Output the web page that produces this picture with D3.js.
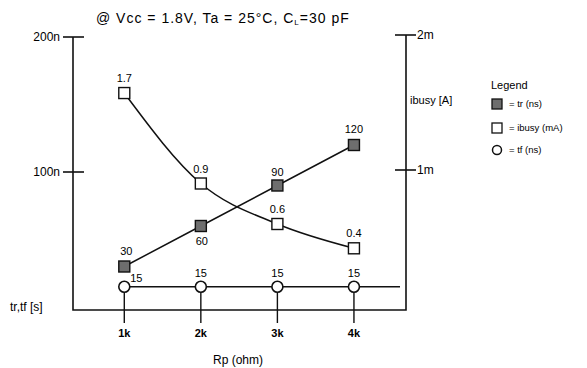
<!DOCTYPE html>
<html>
<head>
<meta charset="UTF-8">
<script src="https://d3js.org/d3.v7.min.js"></script>
<style>
  body { margin: 0; background: #fff; font-family: "Liberation Sans", Arial, sans-serif; }
  svg { display: block; }
  .lbl { font-size: 11px; fill: #000; }
  .axlbl { font-size: 12px; fill: #000; }
</style>
</head>
<body>
<script>
// data
const rpK = [1, 2, 3, 4];
const trNs = [30, 60, 90, 120];
const ibusyMa = [1.57, 0.9, 0.6, 0.42];          // plotted positions
const ibusyLabels = ["1.7", "0.9", "0.6", "0.4"]; // printed values
const tfNs = [15, 15, 15, 15];
const leftTicks = [100, 200];
const leftTickLabels = ["100n", "200n"];
const rightTicks = [1, 2];
const rightTickLabels = ["1m", "2m"];
const xTickLabels = ["1k", "2k", "3k", "4k"];

const W = 587, H = 368;
const svg = d3.select("body").append("svg").attr("width", W).attr("height", H);

const x = d3.scaleLinear().domain([0.33, 4.68]).range([73, 406]);
const yL = d3.scaleLinear().domain([0, 200]).range([307, 37]);
const yR = d3.scaleLinear().domain([0, 2]).range([305, 35]);
const axisBottomY = 310;

// frame: left, bottom, right
svg.append("path")
  .attr("d", `M${x.range()[0]},${yL(200)} V${axisBottomY} H${x.range()[1]} V${yR(2)}`)
  .attr("fill", "none").attr("stroke", "#111").attr("stroke-width", 1.6);

// left ticks
svg.selectAll(".lt").data(leftTicks).join("line")
  .attr("x1", 63).attr("x2", 84)
  .attr("y1", d => yL(d)).attr("y2", d => yL(d))
  .attr("stroke", "#111").attr("stroke-width", 1.6);
svg.selectAll(".ltl").data(leftTicks).join("text")
  .attr("class", "axlbl").attr("x", 60).attr("y", d => yL(d)).attr("dy", "0.35em")
  .attr("text-anchor", "end").text((d, i) => leftTickLabels[i]);

// right ticks
svg.selectAll(".rt").data(rightTicks).join("line")
  .attr("x1", 395).attr("x2", 416)
  .attr("y1", d => yR(d)).attr("y2", d => yR(d))
  .attr("stroke", "#111").attr("stroke-width", 1.6);
svg.selectAll(".rtl").data(rightTicks).join("text")
  .attr("class", "axlbl").attr("x", 417).attr("y", d => yR(d)).attr("dy", "0.35em")
  .attr("font-size", 13).text((d, i) => rightTickLabels[i]);

// x ticks (from tf point down through axis)
svg.selectAll(".xt").data(rpK).join("line")
  .attr("x1", d => x(d)).attr("x2", d => x(d))
  .attr("y1", yL(15)).attr("y2", 323)
  .attr("stroke", "#111").attr("stroke-width", 1.4);
svg.selectAll(".xtl").data(rpK).join("text")
  .attr("class", "lbl").attr("x", d => x(d)).attr("y", 337)
  .attr("font-weight", "bold")
  .attr("text-anchor", "middle").text((d, i) => xTickLabels[i]);

// tf line, runs past last point
svg.append("line")
  .attr("x1", x(1)).attr("x2", 400).attr("y1", yL(15)).attr("y2", yL(15))
  .attr("stroke", "#111").attr("stroke-width", 1.6);

// tr line
const pts = rpK.map((k, i) => ({ k, tr: trNs[i], ib: ibusyMa[i], tf: tfNs[i], ibl: ibusyLabels[i] }));
svg.append("path").datum(pts)
  .attr("d", d3.line().x(d => x(d.k)).y(d => yL(d.tr)))
  .attr("fill", "none").attr("stroke", "#111").attr("stroke-width", 1.5);

// ibusy curve
svg.append("path").datum(pts)
  .attr("d", d3.line().x(d => x(d.k)).y(d => yR(d.ib)).curve(d3.curveMonotoneX))
  .attr("fill", "none").attr("stroke", "#111").attr("stroke-width", 1.5);

const s = 11;
svg.selectAll(".trm").data(pts).join("rect")
  .attr("x", d => x(d.k) - s / 2).attr("y", d => yL(d.tr) - s / 2)
  .attr("width", s).attr("height", s)
  .attr("fill", "#6e6e6e").attr("stroke", "#111").attr("stroke-width", 1.4);
svg.selectAll(".ibm").data(pts).join("rect")
  .attr("x", d => x(d.k) - s / 2).attr("y", d => yR(d.ib) - s / 2)
  .attr("width", s).attr("height", s)
  .attr("fill", "#fff").attr("stroke", "#111").attr("stroke-width", 1.4);
svg.selectAll(".tfm").data(pts).join("circle")
  .attr("cx", d => x(d.k)).attr("cy", d => yL(d.tf)).attr("r", 5.5)
  .attr("fill", "#fff").attr("stroke", "#111").attr("stroke-width", 1.6);

// point labels
const trOff = [[2, -12], [1, 19], [0, -10], [0, -12]];
svg.selectAll(".trl").data(pts).join("text")
  .attr("class", "lbl").attr("text-anchor", "middle")
  .attr("x", (d, i) => x(d.k) + trOff[i][0]).attr("y", (d, i) => yL(d.tr) + trOff[i][1])
  .text(d => d.tr);
svg.selectAll(".ibl").data(pts).join("text")
  .attr("class", "lbl").attr("text-anchor", "middle")
  .attr("x", d => x(d.k)).attr("y", d => yR(d.ib) - 11)
  .text(d => d.ibl);
const tfOff = [[12, -5], [0, -10], [0, -10], [0, -10]];
svg.selectAll(".tfl").data(pts).join("text")
  .attr("class", "lbl").attr("text-anchor", "middle")
  .attr("x", (d, i) => x(d.k) + tfOff[i][0]).attr("y", (d, i) => yL(d.tf) + tfOff[i][1])
  .text(d => d.tf);

// title
const t = svg.append("text").attr("x", 96).attr("y", 23).attr("font-size", 14)
  .attr("letter-spacing", 1).attr("fill", "#000");
t.append("tspan").text("@ Vcc = 1.8V, Ta = 25°C, C");
t.append("tspan").attr("font-size", 8).attr("dy", 2).text("L");
t.append("tspan").attr("dy", -2).text("=30 pF");

// axis titles
svg.append("text").attr("class", "axlbl").attr("x", 10).attr("y", 311).text("tr,tf [s]");
svg.append("text").attr("class", "lbl").attr("x", 410).attr("y", 104).attr("font-size", 12).text("ibusy [A]");
svg.append("text").attr("class", "axlbl").attr("x", 238).attr("y", 364)
  .attr("text-anchor", "middle").text("Rp (ohm)");

// legend
const lg = svg.append("g").attr("transform", "translate(491,0)");
lg.append("text").attr("x", 0).attr("y", 89).attr("font-size", 11).attr("fill", "#000").text("Legend");
const legendRows = [
  { y: 104, shape: "rect", fill: "#6e6e6e", text: "= tr (ns)" },
  { y: 128, shape: "rect", fill: "#fff", text: "= ibusy (mA)" },
  { y: 150, shape: "circle", fill: "#fff", text: "= tf (ns)" }
];
legendRows.forEach(r => {
  if (r.shape === "rect") {
    lg.append("rect").attr("x", 1).attr("y", r.y - 5).attr("width", 10).attr("height", 10)
      .attr("fill", r.fill).attr("stroke", "#111").attr("stroke-width", 1.3);
  } else {
    lg.append("circle").attr("cx", 6).attr("cy", r.y).attr("r", 4.5)
      .attr("fill", r.fill).attr("stroke", "#111").attr("stroke-width", 1.5);
  }
  lg.append("text").attr("x", 18).attr("y", r.y).attr("dy", "0.35em")
    .attr("font-size", 9.5).attr("fill", "#000").text(r.text);
});
</script>
</body>
</html>
